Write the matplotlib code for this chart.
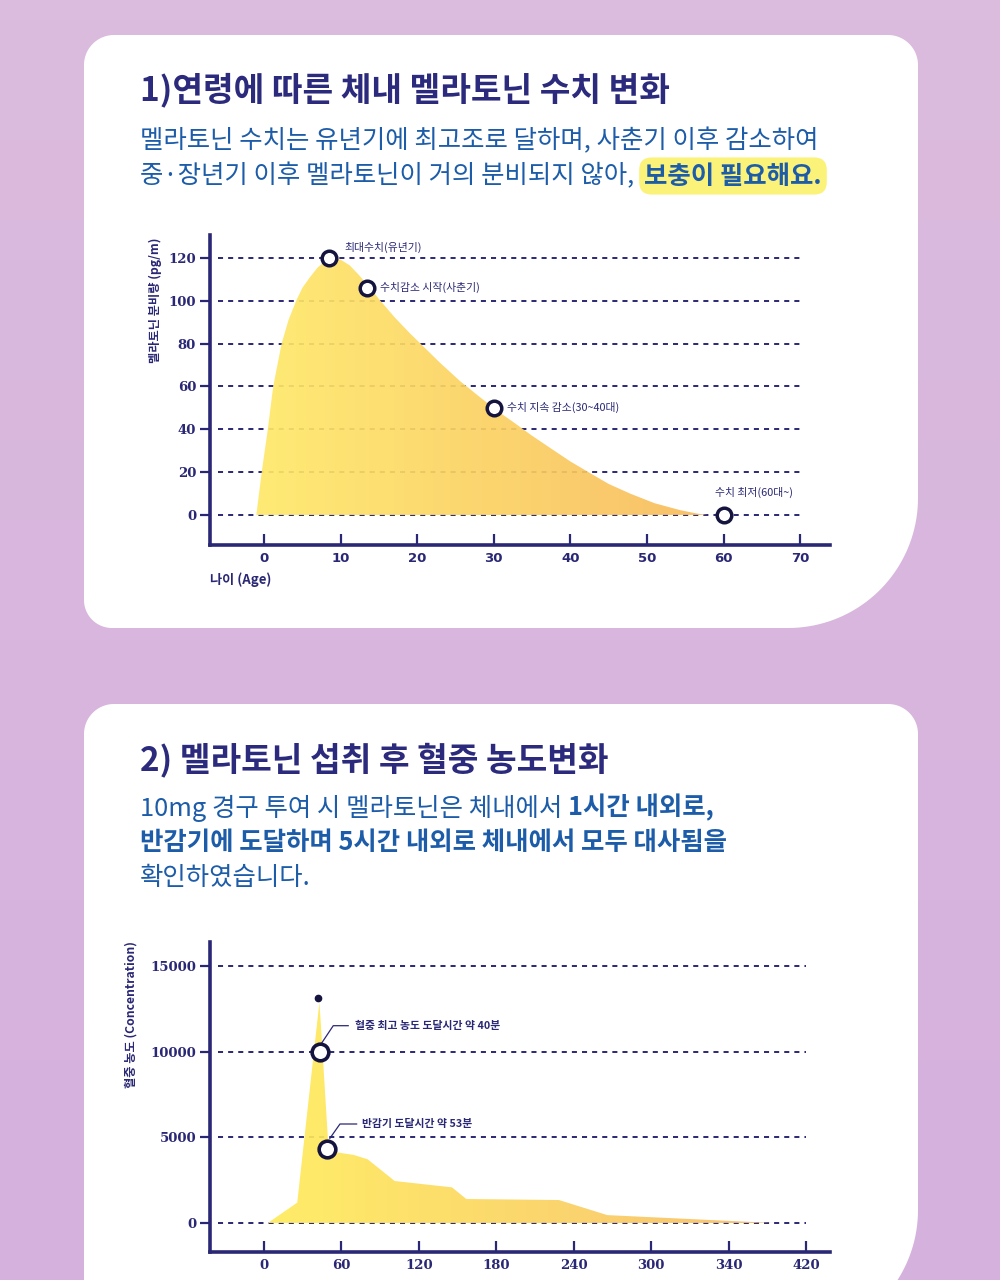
import numpy as np
import matplotlib
matplotlib.use('Agg')
import matplotlib.pyplot as plt
from matplotlib.colors import LinearSegmentedColormap
from matplotlib.patches import Polygon

plt.rcParams['font.family'] = ['Noto Sans CJK KR', 'DejaVu Sans']

NAVY = '#2a2875'
TITLE = '#2b2a7c'
BLUE = '#1c5ca8'

# --- chart 1: melatonin by age ---
ages = [-1, -0.3, 0.5, 1.2, 2.3, 3.2, 4.2, 5.0, 6.0, 7.0, 8.0, 9.0, 10.0, 11.2,
        12.4, 13.6, 15.2, 17.0, 19.0, 21.0, 23.0, 25.6, 28.2, 30.5, 32.5, 35.0,
        37.7, 40.0, 42.6, 45.0, 47.8, 51.0, 54.3, 56.5, 57.9]
melatonin = [0, 20, 40, 60, 80, 91, 100, 106, 111, 115.5, 118.5, 119.8, 119.2, 116.5,
             112, 107, 100, 92.5, 85, 78, 71, 62.5, 55, 48.5, 43.5, 37,
             30.5, 25, 19.5, 14.5, 10, 5.5, 2.3, 0.7, 0]
age_ticks = [0, 10, 20, 30, 40, 50, 60, 70]
level_ticks = [0, 20, 40, 60, 80, 100, 120]
point_ages = [8.5, 13.5, 30, 60]
point_levels = [120, 106, 50, 0]
point_labels = ['최대수치(유년기)', '수치감소 시작(사춘기)', '수치 지속 감소(30~40대)', '수치 최저(60대~)']

# --- chart 2: blood concentration after intake ---
minutes = [3, 25.8, 43, 49.5, 53.3, 69.7, 80.4, 101.3, 145.7, 156.8, 228.6, 266, 395]
conc = [0, 1190, 12900, 5000, 4160, 3970, 3716, 2450, 2080, 1400, 1340, 460, 0]
time_ticks = [0, 60, 120, 180, 240, 300, 360, 420]
time_labels = ['0', '60', '120', '180', '240', '300', '340', '420']
conc_ticks = [0, 5000, 10000, 15000]
peak_dot = (42, 13150)
mark_minutes = [43.5, 49]
mark_conc = [10000, 4300]
mark_labels = ['혈중 최고 농도 도달시간 약 40분', '반감기 도달시간 약 53분']

fig = plt.figure(figsize=(10, 12.8), dpi=100)
bg = fig.add_axes([0, 0, 1, 1])
bg.axis('off')

bgcmap = LinearSegmentedColormap.from_list('bg', ['#dbbbde', '#d5b1dd'])
bg.imshow(np.linspace(0, 1, 64).reshape(-1, 1), extent=[0, 1000, 1280, 0],
          aspect='auto', cmap=bgcmap, zorder=0)
bg.set_xlim(0, 1000)
bg.set_ylim(1280, 0)


def card(x0, y0, x1, y1, rtl, rtr, rbr, rbl):
    def arc(cx, cy, r, a0, a1):
        t = np.radians(np.linspace(a0, a1, 40))
        return np.c_[cx + r * np.cos(t), cy + r * np.sin(t)]
    pts = np.vstack([arc(x0 + rtl, y0 + rtl, rtl, 180, 270),
                     arc(x1 - rtr, y0 + rtr, rtr, 270, 360),
                     arc(x1 - rbr, y1 - rbr, rbr, 0, 90),
                     arc(x0 + rbl, y1 - rbl, rbl, 90, 180)])
    bg.add_patch(Polygon(pts, closed=True, fc='white', ec='none', zorder=1))


card(84, 35, 918, 628, 30, 30, 130, 28)
card(84, 704, 918, 1340, 30, 30, 130, 28)

renderer = fig.canvas.get_renderer()


def runs(x, y, parts, size):
    for s, weight, gap, box in parts:
        x += gap
        t = bg.text(x, y, s, fontsize=size, fontweight=weight, color=BLUE,
                    ha='left', va='center', zorder=5)
        if box:
            t.set_bbox(dict(boxstyle='round,pad=0.2,rounding_size=0.5',
                            fc='#fbf27a', ec='none'))
        x += t.get_window_extent(renderer).width


bg.text(140, 90, '1)연령에 따른 체내 멜라토닌 수치 변화', fontsize=24, fontweight='bold',
        color=TITLE, ha='left', va='center', zorder=5)
runs(140, 141, [('멜라토닌 수치는 유년기에 최고조로 달하며, 사춘기 이후 감소하여', 'medium', 0, False)], 18.3)
runs(140, 176, [('중·장년기 이후 멜라토닌이 거의 분비되지 않아,', 'medium', 0, False),
                ('보충이 필요해요.', 'bold', 10, True)], 18.3)

bg.text(140, 760, '2) 멜라토닌 섭취 후 혈중 농도변화', fontsize=24, fontweight='bold',
        color=TITLE, ha='left', va='center', zorder=5)
runs(140, 808, [('10mg 경구 투여 시 멜라토닌은 체내에서', 'medium', 0, False),
                ('1시간 내외로,', 'bold', 6, False)], 18.3)
runs(140, 843, [('반감기에 도달하며 5시간 내외로 체내에서 모두 대사됨을', 'bold', 0, False)], 18.3)
runs(140, 878, [('확인하였습니다.', 'medium', 0, False)], 18.3)

bg.text(155, 300, '멜라토닌 분비량 (pg/m)', fontsize=8.8, fontweight='bold', color=NAVY,
        rotation=90, ha='center', va='center', zorder=5)
bg.text(210, 580, '나이 (Age)', fontsize=9.5, fontweight='bold', color=NAVY,
        ha='left', va='center', zorder=5)
bg.text(131, 1015, '혈중 농도 (Concentration)', fontsize=8.8, fontweight='bold', color=NAVY,
        rotation=90, ha='center', va='center', zorder=5)


def style_axes(ax):
    ax.patch.set_alpha(0)
    for side in ['top', 'right']:
        ax.spines[side].set_visible(False)
    for side in ['left', 'bottom']:
        ax.spines[side].set_color(NAVY)
        ax.spines[side].set_linewidth(2.6)
    ax.tick_params(axis='y', direction='out', length=7, width=1.6, color=NAVY, pad=3)
    ax.tick_params(axis='x', direction='in', length=8, width=1.6, color=NAVY, pad=5)


def gradient_fill(ax, x, y, c0, c1, x0, x1, ymax):
    poly = ax.fill_between(x, y, 0, color='none', lw=0)
    path = poly.get_paths()[0]
    cmap = LinearSegmentedColormap.from_list('g', [c0, c1])
    im = ax.imshow(np.linspace(0, 1, 256).reshape(1, -1), extent=[x0, x1, 0, ymax],
                   aspect='auto', cmap=cmap, alpha=0.92, zorder=2, interpolation='bicubic')
    im.set_clip_path(path, transform=ax.transData)


serif = dict(family='DejaVu Serif', weight='bold', size=9.5)
sans = dict(family='DejaVu Sans', weight='bold', size=9.5)

# chart 1
ax1 = fig.add_axes([0.21, 1 - 545 / 1280, 0.62, 310 / 1280])
style_axes(ax1)
ax1.hlines(level_ticks, -6, 70, colors=NAVY, linestyles=(0, (2.6, 2.6)), lw=1.4, zorder=1)
gradient_fill(ax1, ages, melatonin, '#ffe968', '#f8bb5c', -1, 58, 121)
ax1.plot(point_ages, point_levels, 'o', ms=10.5, mfc='white', mec='#15143f', mew=2.5,
         zorder=4, clip_on=False)
label_pos = [(10.45, 124.7), (15.15, 106), (31.7, 50), (58.9, 10.7)]
for (tx, ty), s in zip(label_pos, point_labels):
    ax1.text(tx, ty, s, fontsize=7.8, fontweight='medium', color=NAVY,
             ha='left', va='center', zorder=5)
ax1.set_xticks(age_ticks)
ax1.set_xticklabels([str(v) for v in age_ticks], fontdict=sans, color=NAVY)
ax1.set_yticks(level_ticks)
ax1.set_yticklabels([str(v) for v in level_ticks], fontdict=serif, color=NAVY)
ax1.set_xlim(-7.05, 73.9)
ax1.set_ylim(-14.0, 130.7)

# chart 2
ax2 = fig.add_axes([0.21, 1 - 1252 / 1280, 0.62, 310 / 1280])
style_axes(ax2)
ax2.hlines(conc_ticks, -35.6, 420, colors=NAVY, linestyles=(0, (2.6, 2.6)), lw=1.4, zorder=1)
gradient_fill(ax2, minutes, conc, '#ffec5a', '#f8bd66', 3, 395, 13000)
ax2.plot(*peak_dot, 'o', ms=4.5, color='#15143f', zorder=4)
ax2.plot(mark_minutes, mark_conc, 'o', ms=12, mfc='white', mec='#15143f', mew=2.6,
         zorder=4)
leaders = [([44.6, 53.7, 65.3], [10488, 11516, 11516], 70.5),
           ([51.1, 58.9, 71.8], [4944, 5778, 5778], 75.9)]
for (lx, ly, tx), s in zip(leaders, mark_labels):
    ax2.plot(lx, ly, color=NAVY, lw=0.9, zorder=3)
    ax2.text(tx, ly[-1], s, fontsize=7.8, fontweight='bold', color=NAVY,
             ha='left', va='center', zorder=5)
ax2.set_xticks(time_ticks)
ax2.set_xticklabels(time_labels, fontdict=serif, color=NAVY)
ax2.set_yticks(conc_ticks)
ax2.set_yticklabels([str(v) for v in conc_ticks], fontdict=serif, color=NAVY)
ax2.set_xlim(-41.8, 438.6)
ax2.set_ylim(-1693, 16401)

fig.savefig('out.png', dpi=100)
